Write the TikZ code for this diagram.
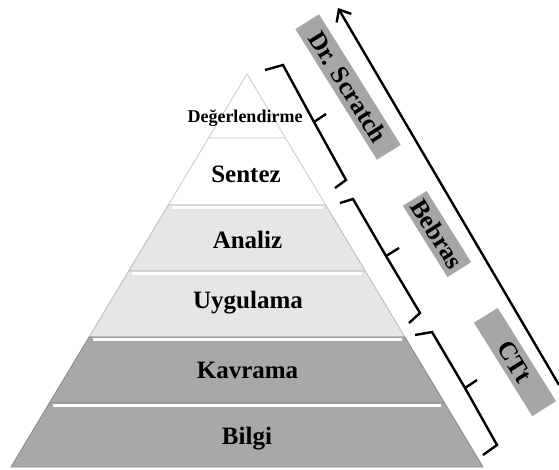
\documentclass[tikz,border=0pt]{standalone}
\usepackage{fontspec}
\setmainfont{Liberation Serif}
\usetikzlibrary{arrows.meta}
\definecolor{tagGray}{HTML}{A6A6A6}
\definecolor{bandLight}{HTML}{E6E6E6}
\definecolor{bandDark}{HTML}{A8A8A8}
\definecolor{edgeWhite}{HTML}{CFCFCF}
\definecolor{edgeLight}{HTML}{BDBDBD}
\definecolor{edgeDark}{HTML}{8C8C8C}
\begin{document}
\begin{tikzpicture}[x=1pt,y=-1pt,
  band/.style={draw=#1, line width=0.9pt, line join=round},
  hl/.style={white, line width=2.2pt},
  lbl/.style={font=\bfseries\fontsize{25}{25}\selectfont, anchor=base, inner sep=0pt},
  tag/.style={fill=tagGray, rotate=-58, inner sep=0pt, font=\bfseries\fontsize{25.5}{25.5}\selectfont,
              text height=17pt, text depth=0pt, minimum height=28pt},
  bracepath/.style={line width=2.4pt, line join=miter},
  arrowline/.style={line width=2.4pt, -{Straight Barb[length=10pt,width=17pt]}},
]
\useasboundingbox (0,0) rectangle (559,470);
\fill[white] (0,0) rectangle (559,470);

% pyramid bands
\draw[band=edgeWhite, fill=white] (247,74) -- (285.4,138) -- (208.6,138) -- cycle;
\draw[band=edgeWhite, fill=white] (208.6,138) -- (285.4,138) -- (325.7,205) -- (168.3,205) -- cycle;
\draw[band=edgeLight, fill=bandLight] (168.3,205) -- (325.7,205) -- (365.3,271) -- (128.7,271) -- cycle;
\draw[hl] (171.5,207.5) -- (322.5,207.5);
\draw[band=edgeLight, fill=bandLight] (128.7,271) -- (365.3,271) -- (404.9,337) -- (89.1,337) -- cycle;
\draw[hl] (132,273.5) -- (362,273.5);
\draw[band=edgeDark, fill=bandDark] (89.1,337) -- (404.9,337) -- (444.6,403) -- (49.4,403) -- cycle;
\draw[hl] (92.5,339.5) -- (401.5,339.5);
\draw[band=edgeDark, fill=bandDark] (49.4,403) -- (444.6,403) -- (483,467) -- (11,467) -- cycle;
\draw[hl] (53,405.5) -- (441,405.5);

% pyramid labels
\node[lbl, font=\bfseries\fontsize{18}{18}\selectfont] (deg) at (245,123) {Değerlendirme};
\node[lbl] (sen) at (246,183) {Sentez};
\node[lbl] (ana) at (247.5,248) {Analiz};
\node[lbl] (uyg) at (248,308) {Uygulama};
\node[lbl] (kav) at (247.5,378) {Kavrama};
\node[lbl] (bil) at (247,444) {Bilgi};

% braces
\draw[bracepath] (265,70) -- (283,65) -- (314,122) -- (326,114);
\draw[bracepath] (314,122) -- (346,180) -- (335,188);
\draw[bracepath] (340,203) -- (353,199) -- (386,256) -- (399,248);
\draw[bracepath] (386,256) -- (420,313) -- (409,323);
\draw[bracepath] (415,335) -- (432,332) -- (465,388) -- (477,380);
\draw[bracepath] (465,388) -- (497,445) -- (483,455);

% tool tags
\node[tag, minimum width=154pt] (drs) at (348,87) {Dr. Scratch};
\node[tag, minimum width=84pt] (beb) at (437,234) {Bebras};
\node[tag, minimum width=110pt] (ctt) at (515,362) {CTt};

% arrow
\coordinate (arrS) at (559,385);
\coordinate (arrE) at (338,8);
\draw[arrowline] (arrS) -- (arrE);
\end{tikzpicture}
\end{document}
